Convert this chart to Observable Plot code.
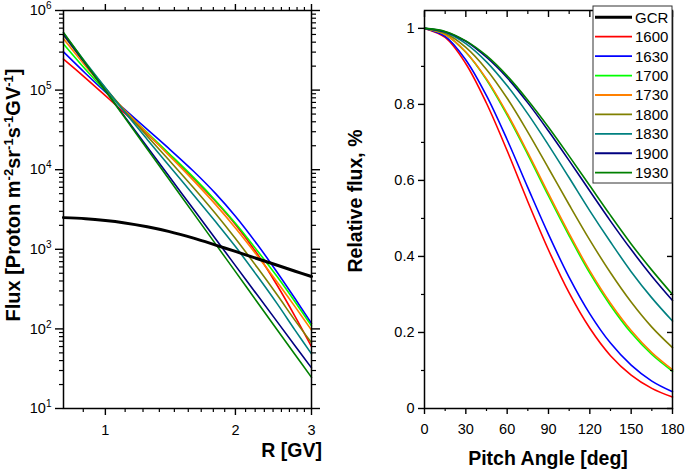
<!DOCTYPE html>
<html><head><meta charset="utf-8">
<script src="https://cdn.jsdelivr.net/npm/d3@7"></script>
<script src="https://cdn.jsdelivr.net/npm/@observablehq/plot@0.6"></script>
<style>
body{margin:0;background:#fff;}
#wrap{position:relative;width:685px;height:471px;overflow:hidden;font-family:"Liberation Sans",Arial,sans-serif;}
#left{position:absolute;left:0;top:0}
#right{position:absolute;left:340px;top:0}
</style></head><body><div id="wrap"><div id="left"></div><div id="right"></div></div>
<script>
// ---------- data ----------
const ages = ["1600","1630","1700","1730","1800","1830","1900","1930"];
const ageColors = ["#ff0000","#0000ff","#00ff00","#ff8000","#808000","#008080","#000080","#008000"];

// Left panel: flux vs rigidity R [GV]
const rigidity = [0.8, 0.9, 1.0, 1.1, 1.25, 1.4, 1.6, 1.8, 2.0, 2.25, 2.5, 2.75, 3.0];
const gcrFlux  = [2500, 2420, 2300, 2160, 1920, 1680, 1380, 1130, 940, 760, 630, 530, 455];
const flux1600 = [2.455e5, 1.413e5, 8.51e4, 5.33e4, 2.818e4, 1.581e4, 7780, 3981, 2051, 867, 351, 143, 60];
const flux1630 = [3.02e5, 1.618e5, 9.46e4, 5.93e4, 3.206e4, 1.862e4, 9550, 5000, 2600, 1140, 512, 239, 117];
const flux1700 = [3.80e5, 1.811e5, 9.73e4, 5.75e4, 2.924e4, 1.622e4, 7998, 4083, 2123, 953, 451, 218, 109];
const flux1730 = [4.41e5, 2.00e5, 1.03e5, 5.88e4, 2.871e4, 1.538e4, 7295, 3639, 1854, 822, 386, 189, 96.6];
const flux1800 = [4.90e5, 2.148e5, 1.059e5, 5.75e4, 2.642e4, 1.34e4, 5929, 2793, 1365, 585, 266, 127, 67];
const flux1830 = [5.20e5, 2.228e5, 1.067e5, 5.57e4, 2.399e4, 1.148e4, 4819, 2213, 1081, 458, 206, 95.9, 48.6];
const flux1900 = [5.01e5, 2.123e5, 9.84e4, 4.91e4, 1.932e4, 8433, 3184, 1346, 624, 264, 122.5, 61.1, 32.4];
const flux1930 = [5.30e5, 2.178e5, 9.82e4, 4.79e4, 1.824e4, 7745, 2825, 1161, 524, 215, 97, 47.3, 24.6];
const fluxSeries = [flux1600, flux1630, flux1700, flux1730, flux1800, flux1830, flux1900, flux1930];

// Right panel: relative flux vs pitch angle
const pitchAngle = [0, 15, 30, 45, 60, 75, 90, 105, 120, 135, 150, 165, 180];
const rel1600 = [1, 0.976, 0.907, 0.803, 0.678, 0.544, 0.417, 0.304, 0.211, 0.139, 0.088, 0.053, 0.030];
const rel1630 = [1, 0.979, 0.917, 0.823, 0.707, 0.581, 0.458, 0.345, 0.249, 0.172, 0.114, 0.072, 0.044];
const rel1700 = [1, 0.984, 0.937, 0.865, 0.772, 0.668, 0.559, 0.454, 0.356, 0.271, 0.199, 0.142, 0.098];
const rel1730 = [1, 0.984, 0.938, 0.867, 0.776, 0.673, 0.565, 0.460, 0.362, 0.277, 0.205, 0.147, 0.102];
const rel1800 = [1, 0.987, 0.950, 0.892, 0.816, 0.727, 0.632, 0.536, 0.443, 0.357, 0.280, 0.214, 0.160];
const rel1830 = [1, 0.990, 0.960, 0.912, 0.849, 0.775, 0.693, 0.607, 0.520, 0.438, 0.360, 0.291, 0.230];
const rel1900 = [1, 0.991, 0.966, 0.924, 0.870, 0.804, 0.730, 0.652, 0.572, 0.493, 0.418, 0.348, 0.284];
const rel1930 = [1, 0.992, 0.967, 0.928, 0.875, 0.811, 0.740, 0.664, 0.586, 0.508, 0.433, 0.364, 0.300];
const relSeries = [rel1600, rel1630, rel1700, rel1730, rel1800, rel1830, rel1900, rel1930];

// ticks
const fluxMajor = [1e1, 1e2, 1e3, 1e4, 1e5, 1e6];
const fluxMinor = [];
for (let e = 1; e < 6; e++) for (let m = 2; m <= 9; m++) fluxMinor.push(m * 10 ** e);
const rMajor = [1, 2, 3];
const rMinor = [8/9, 10/9, 11/9, 12/9, 13/9, 14/9, 15/9, 16/9, 17/9, 19/9, 20/9, 21/9, 22/9, 23/9, 24/9, 25/9, 26/9];
const angleMajor = [0, 30, 60, 90, 120, 150, 180];
const angleMinor = [15, 45, 75, 105, 135, 165];
const relMajor = [0, 0.2, 0.4, 0.6, 0.8, 1];
const relMinor = [0.1, 0.3, 0.5, 0.7, 0.9];

// ---------- build rows ----------
const fluxRows = [];
ages.forEach((a, i) => fluxSeries[i].forEach((v, j) => fluxRows.push({R: rigidity[j], F: v, age: a})));
const gcrRows = rigidity.map((r, j) => ({R: r, F: gcrFlux[j]}));
const relRows = [];
ages.forEach((a, i) => relSeries[i].forEach((v, j) => relRows.push({angle: pitchAngle[j], rel: v, age: a})));

const FONT = '"Liberation Sans", Arial, sans-serif';
const blank = () => "";

// ---------- left panel ----------
const left = Plot.plot({
  width: 340, height: 471,
  marginLeft: 63, marginRight: 29, marginTop: 10, marginBottom: 63,
  style: {fontFamily: FONT, fontSize: "14.5px", color: "#000", background: "transparent", overflow: "visible"},
  x: {type: "log", domain: [0.8, 3]},
  y: {type: "log", domain: [10, 1e6]},
  color: {domain: ages, range: ageColors},
  marks: [
    Plot.line(fluxRows, {x: "R", y: "F", z: "age", stroke: "age", strokeWidth: 1.6, curve: "catmull-rom"}),
    Plot.line(gcrRows, {x: "R", y: "F", stroke: "#000", strokeWidth: 3, curve: "catmull-rom"}),
    Plot.frame({stroke: "#000", strokeWidth: 1.5}),
    Plot.axisY({anchor: "left", ticks: fluxMajor, tickSize: 8, tickPadding: 4, tickFormat: d => "10^" + Math.round(Math.log10(d)), label: null, strokeWidth: 1.4}),
    Plot.axisY({anchor: "left", ticks: fluxMinor, tickSize: 4, tickFormat: blank, label: null, strokeWidth: 1.2}),
    Plot.axisY({anchor: "right", ticks: fluxMajor, tickSize: 8, tickFormat: blank, label: null, strokeWidth: 1.4}),
    Plot.axisY({anchor: "right", ticks: fluxMinor, tickSize: 4, tickFormat: blank, label: null, strokeWidth: 1.2}),
    Plot.axisX({anchor: "bottom", ticks: rMajor, tickSize: 7, tickPadding: 9, tickFormat: d => String(d), label: null, strokeWidth: 1.4}),
    Plot.axisX({anchor: "bottom", ticks: rMinor, tickSize: 4, tickFormat: blank, label: null, strokeWidth: 1.2}),
    Plot.axisX({anchor: "top", ticks: rMajor, tickSize: 7, tickFormat: blank, label: null, strokeWidth: 1.4}),
    Plot.axisX({anchor: "top", ticks: rMinor, tickSize: 4, tickFormat: blank, label: null, strokeWidth: 1.2})
  ]
});
document.getElementById("left").appendChild(left);

// superscript tick labels
d3.select(left).selectAll("text").each(function () {
  const t = this.textContent;
  if (/^10\^\d+$/.test(t)) {
    const e = t.split("^")[1];
    const s = d3.select(this);
    s.text(null);
    s.append("tspan").text("10");
    s.append("tspan").attr("dy", "-6").attr("font-size", "10px").text(e);
  }
});

// left titles
const L = d3.select(left);
const yt = L.append("text")
  .attr("transform", "translate(20,195) rotate(-90)")
  .attr("text-anchor", "middle")
  .attr("font-weight", "bold").attr("font-size", "20px").attr("fill", "#000");
const parts = [["Flux [Proton m", false], ["-2", true], ["sr", false], ["-1", true], ["s", false], ["-1", true], ["GV", false], ["-1", true], ["]", false]];
let up = false;
parts.forEach(([txt, sup]) => {
  const ts = yt.append("tspan").text(txt);
  if (sup && !up) { ts.attr("dy", "-7").attr("font-size", "13px"); up = true; }
  else if (!sup && up) { ts.attr("dy", "7"); up = false; }
  else if (sup) ts.attr("font-size", "13px");
});
L.append("text").attr("x", 322).attr("y", 457).attr("text-anchor", "end")
  .attr("font-weight", "bold").attr("font-size", "19.5px").attr("fill", "#000").text("R [GV]");

// ---------- right panel ----------
const right = Plot.plot({
  width: 345, height: 471,
  marginLeft: 84, marginRight: 13, marginTop: 10, marginBottom: 63,
  style: {fontFamily: FONT, fontSize: "14.5px", color: "#000", background: "transparent", overflow: "visible"},
  x: {domain: [0, 180]},
  y: {domain: [0, 1.047]},
  color: {domain: ages, range: ageColors},
  marks: [
    Plot.line(relRows, {x: "angle", y: "rel", z: "age", stroke: "age", strokeWidth: 1.6, curve: "catmull-rom"}),
    Plot.frame({stroke: "#000", strokeWidth: 1.5}),
    Plot.axisY({anchor: "left", ticks: relMajor, tickSize: 6, tickPadding: 4, tickFormat: d => String(d), label: null, strokeWidth: 1.4}),
    Plot.axisY({anchor: "left", ticks: relMinor, tickSize: 3, tickFormat: blank, label: null, strokeWidth: 1.2}),
    Plot.axisY({anchor: "right", ticks: relMajor, tickSize: -6, tickFormat: blank, label: null, strokeWidth: 1.4}),
    Plot.axisY({anchor: "right", ticks: relMinor, tickSize: -3, tickFormat: blank, label: null, strokeWidth: 1.2}),
    Plot.axisX({anchor: "bottom", ticks: angleMajor, tickSize: 6, tickPadding: 9, tickFormat: d => String(d), label: null, strokeWidth: 1.4}),
    Plot.axisX({anchor: "bottom", ticks: angleMinor, tickSize: 3, tickFormat: blank, label: null, strokeWidth: 1.2}),
    Plot.axisX({anchor: "top", ticks: angleMajor, tickSize: -6, tickFormat: blank, label: null, strokeWidth: 1.4}),
    Plot.axisX({anchor: "top", ticks: angleMinor, tickSize: -3, tickFormat: blank, label: null, strokeWidth: 1.2})
  ]
});
document.getElementById("right").appendChild(right);

const R = d3.select(right);
R.append("text").attr("transform", "translate(22,201) rotate(-90)").attr("text-anchor", "middle")
  .attr("font-weight", "bold").attr("font-size", "19.5px").attr("fill", "#000").text("Relative flux, %");
R.append("text").attr("x", 208).attr("y", 465).attr("text-anchor", "middle")
  .attr("font-weight", "bold").attr("font-size", "19.5px").attr("fill", "#000").text("Pitch Angle [deg]");

// legend
const legNames = ["GCR"].concat(ages);
const legColors = ["#000"].concat(ageColors);
const lg = R.append("g");
lg.append("rect").attr("x", 253).attr("y", 6).attr("width", 79).attr("height", 177)
  .attr("fill", "#fff").attr("stroke", "#333").attr("stroke-width", 1);
legNames.forEach((n, i) => {
  const cy = 17.3 + i * 19.42;
  lg.append("line").attr("x1", 255).attr("x2", 292).attr("y1", cy).attr("y2", cy)
    .attr("stroke", legColors[i]).attr("stroke-width", i === 0 ? 3 : 1.8);
  lg.append("text").attr("x", 295).attr("y", cy).attr("dy", "0.36em").attr("text-anchor", "start")
    .attr("font-size", "15px").attr("fill", "#000").text(n);
});
</script></body></html>
